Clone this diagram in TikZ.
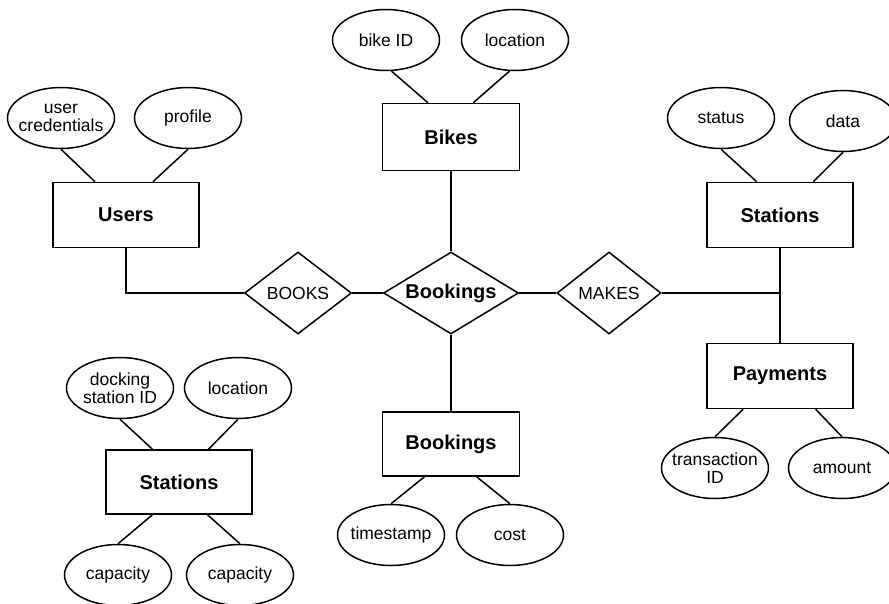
\documentclass[tikz,border=0pt]{standalone}
\usepackage{fontspec}
\setmainfont{Liberation Sans}
\usetikzlibrary{shapes.geometric}
\usetikzlibrary{positioning}

\begin{document}
\begin{tikzpicture}[x=1pt, y=-1pt,
    entity/.style={draw, rectangle, line width=1.5pt, minimum width=146pt, minimum height=65pt, inner sep=0pt, font=\fontsize{20}{22}\selectfont\bfseries},
    attr/.style={draw, ellipse, line width=1.5pt, minimum width=107pt, minimum height=61pt, inner xsep=-14pt, inner ysep=0pt, align=center, font=\fontsize{17.5}{18.5}\selectfont},
    rel/.style={draw, diamond, aspect=1.6, line width=1.5pt, minimum width=107pt, minimum height=82pt, inner sep=0pt, font=\fontsize{17.5}{18.5}\selectfont},
    link/.style={line width=1.5pt}]

    \useasboundingbox (0,0) rectangle (889,603);

    % entities
    \node[entity] (users) at (126,215) {Users};
    \node[entity, minimum width=137pt, minimum height=67pt] (bikes) at (451,137) {Bikes};
    \node[entity] (stationsR) at (780,215) {Stations};
    \node[entity] (payments) at (780,376) {Payments};
    \node[entity, minimum width=137pt, minimum height=64pt] (bookingsB) at (451,444) {Bookings};
    \node[entity, minimum height=64pt] (stationsL) at (179,482) {Stations};

    % relations
    \node[rel] (books) at (298,293) {BOOKS};
    \node[rel, minimum width=135pt, font=\fontsize{20}{22}\selectfont\bfseries] (bookings) at (451,293) {Bookings};
    \node[rel, minimum width=104pt] (makes) at (609,293) {MAKES};

    % attributes
    \foreach \name/\x/\y/\txt in {cred/61/118/user\\credentials, profile/188/118/profile,
        bikeid/386/40/bike ID, bikeloc/515/40/location,
        status/721/118/status, data/843/121/data,
        transid/715/468/transaction\\ID, amount/842/468/amount,
        time/391/535/timestamp, cost/510/535/cost,
        dockid/120/388/docking\\station ID, dockloc/238/388/location,
        capA/118/575/capacity, capB/240/575/capacity} {
         \node[attr] (\name) at (\x,\y) {\txt};
    }

    \foreach \a/\b in {cred.south/users.133, profile.south/users.51,
        bikeid.280/bikes.124, bikeloc.260/bikes.57,
        status.south/stationsR.125, data.south/stationsR.45,
        payments.222/transid.north, payments.317/amount.north,
        bookingsB.231/time.north, bookingsB.308/cost.north,
        dockid.south/stationsL.129, dockloc.south/stationsL.48,
        stationsL.231/capA.north, stationsL.311/capB.north,
        bikes.south/bookings.north, bookings.south/bookingsB.north,
        books.east/bookings.west, bookings.east/makes.west,
        stationsR.south/payments.north} {
         \draw[link] (\a) -- (\b);
    }

    \draw[link] (users.south) |- (books.west);
    \draw[link] (makes.east) -| (stationsR.south);

\end{tikzpicture}
\end{document}
